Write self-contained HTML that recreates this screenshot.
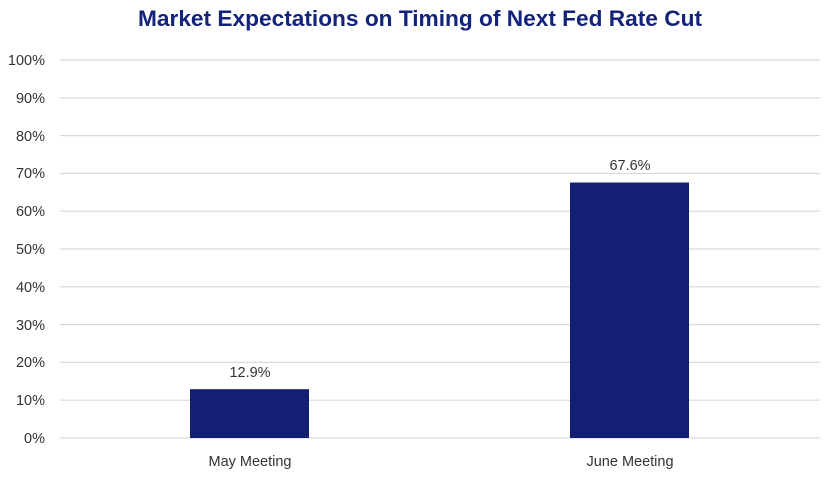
<!DOCTYPE html>
<html><head><style>
body{margin:0;background:#fff;}
svg text{font-family:"Liberation Sans",sans-serif;}
</style></head><body>
<svg width="840" height="472" xmlns="http://www.w3.org/2000/svg">
<text x="420" y="26" text-anchor="middle" font-size="22" font-weight="bold" fill="#13237a" textLength="564" lengthAdjust="spacingAndGlyphs">Market Expectations on Timing of Next Fed Rate Cut</text>
<g stroke="#d9d9d9" stroke-width="1.2">
<line x1="60" x2="820" y1="60" y2="60"/>
<line x1="60" x2="820" y1="97.8" y2="97.8"/>
<line x1="60" x2="820" y1="135.6" y2="135.6"/>
<line x1="60" x2="820" y1="173.4" y2="173.4"/>
<line x1="60" x2="820" y1="211.2" y2="211.2"/>
<line x1="60" x2="820" y1="249" y2="249"/>
<line x1="60" x2="820" y1="286.8" y2="286.8"/>
<line x1="60" x2="820" y1="324.6" y2="324.6"/>
<line x1="60" x2="820" y1="362.4" y2="362.4"/>
<line x1="60" x2="820" y1="400.2" y2="400.2"/>
<line x1="60" x2="820" y1="438" y2="438"/>
</g>
<g font-size="14.5" fill="#333" text-anchor="end">
<text x="45" y="65">100%</text>
<text x="45" y="103">90%</text>
<text x="45" y="141">80%</text>
<text x="45" y="178">70%</text>
<text x="45" y="216">60%</text>
<text x="45" y="254">50%</text>
<text x="45" y="292">40%</text>
<text x="45" y="330">30%</text>
<text x="45" y="367">20%</text>
<text x="45" y="405">10%</text>
<text x="45" y="443">0%</text>
</g>
<rect x="190" y="389.2" width="119" height="48.8" fill="#131f74"/>
<rect x="570" y="182.5" width="119" height="255.5" fill="#131f74"/>
<g font-size="14.5" fill="#333" text-anchor="middle">
<text x="250" y="377">12.9%</text>
<text x="630" y="170">67.6%</text>
<text x="250" y="466">May Meeting</text>
<text x="630" y="466">June Meeting</text>
</g>
</svg>
</body></html>
